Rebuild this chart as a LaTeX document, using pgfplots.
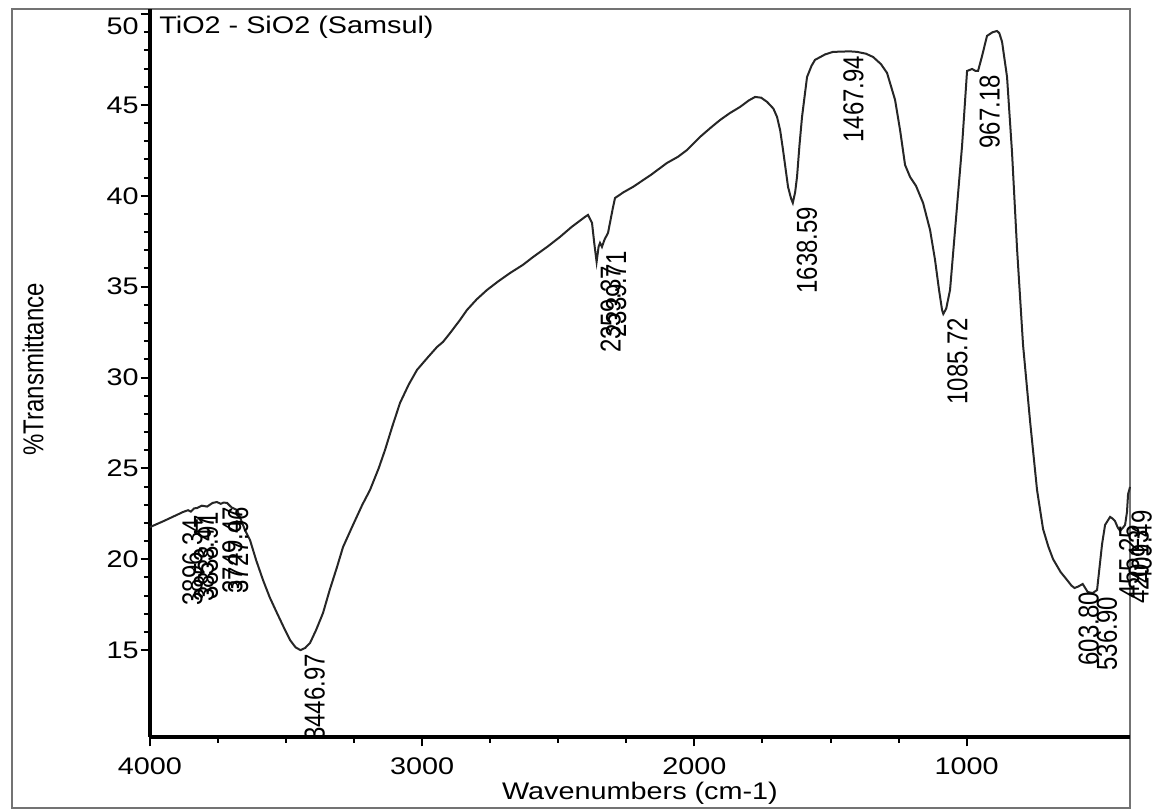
\documentclass[border=0pt]{standalone}
\usepackage{fontspec}
\setmainfont{Liberation Sans}
\usepackage{graphicx}
\usepackage{pgfplots}
\usepackage{pgfplotstable}
\pgfplotsset{compat=1.18}

% the source image is stretched sideways, so widen horizontal text a bit
\newcommand{\sx}[1]{\scalebox{1.2}[1]{#1}}
\newcommand{\pk}[1]{\scalebox{1}[1.2]{#1}}

\pgfplotstableread{
wn T
4000 21.77
3950 22.10
3900 22.45
3878.8 22.60
3860 22.70
3850 22.62
3838 22.80
3827 22.82
3810 22.95
3790 22.90
3770 23.10
3754 23.15
3740 23.05
3730 23.12
3717 23.10
3700 22.85
3680 22.71
3651 21.61
3632.6 21.06
3610 19.95
3584.9 18.86
3560 17.9
3533.4 17.04
3510 16.3
3485.7 15.56
3465 15.15
3446.97 15.00
3430 15.12
3412.2 15.39
3390 16.1
3364.4 17.04
3340 18.3
3313.0 19.57
3290.9 20.67
3254.2 21.89
3220 23.0
3191.8 23.81
3160 25.0
3136.7 26.01
3110 27.3
3081.6 28.60
3050 29.6
3019.1 30.42
2980 31.1
2945.6 31.68
2923.6 31.96
2900 32.4
2861.1 33.17
2835.4 33.72
2800 34.3
2761.9 34.82
2720 35.3
2677.4 35.75
2630 36.2
2592.9 36.63
2540 37.2
2493.7 37.74
2450 38.3
2401.9 38.84
2390.9 38.95
2376.2 38.51
2368 37.4
2359.37 36.36
2352 37.2
2346.8 37.41
2339.71 37.19
2330 37.6
2317.4 37.96
2300 39.3
2291.7 39.88
2260 40.2
2225.6 40.49
2160 41.15
2100.6 41.81
2060 42.15
2027.2 42.52
1979.4 43.24
1940 43.75
1905.9 44.17
1870 44.55
1832.4 44.89
1800 45.25
1777.3 45.44
1755 45.40
1733.3 45.17
1710 44.80
1696.5 44.34
1685 43.6
1674.5 42.52
1656.1 40.49
1645 39.85
1638.59 39.61
1630 40.2
1623.1 41.04
1614 42.8
1604.7 44.34
1586.3 46.54
1570 47.15
1557.0 47.48
1520 47.78
1490.9 47.92
1467.94 47.93
1430 47.95
1402.6 47.92
1370 47.82
1343.8 47.64
1315 47.25
1292.4 46.76
1263.0 45.28
1244.6 43.62
1226.3 41.70
1207.9 41.04
1185.9 40.54
1160.1 39.61
1134.4 38.12
1116.1 36.47
1101.4 34.82
1090.4 33.72
1085.72 33.50
1075 33.8
1061.0 34.82
1042.6 38.12
1016.9 42.74
998.5 46.87
980.1 46.98
967.18 46.87
958.1 46.87
945 47.6
925.1 48.80
905 49.0
888.4 49.07
880 48.95
869.9 48.47
851.6 46.54
833.2 42.36
814.8 37.07
792.8 31.79
767.1 27.61
741.4 23.81
719.4 21.67
700 20.7
682.6 20.01
655 19.3
631.2 18.86
615 18.55
603.80 18.42
590 18.50
573.7 18.64
555.3 18.20
536.90 18.14
520.9 18.31
502.5 20.84
491.5 21.89
473.1 22.33
465 22.25
455.25 22.11
445 21.75
436.4 21.56
425 21.75
418.0 21.89
411 22.6
407.0 23.59
403 23.8
400 23.98
}\spectrum

\begin{document}
\begin{tikzpicture}[font=\fontsize{7.2}{8.6}\selectfont]
\useasboundingbox (-45pt,-22.2pt) rectangle (303.6pt,221.1pt);
\draw[black!55, line width=0.5pt] (-41.4pt,-21.3pt) rectangle (294pt,218.4pt);
\begin{axis}[
  at={(0,0)}, anchor=south west,
  scale only axis, width=294pt, height=218.4pt,
  x dir=reverse, xmin=400, xmax=4000,
  ymin=10.22, ymax=50.28,
  axis x line*=bottom, axis y line*=left,
  axis line style={line width=1.1pt, black},
  tick align=outside,
  xtick={4000,3000,2000,1000},
  xticklabels={\sx{4000},\sx{3000},\sx{2000},\sx{1000}},
  minor x tick num=3,
  ytick={15,20,25,30,35,40,45,50},
  yticklabels={\sx{15},\sx{20},\sx{25},\sx{30},\sx{35},\sx{40},\sx{45},\raisebox{-6pt}[0pt][0pt]{\sx{50}}},
  minor y tick num=4,
  major tick length=2.8pt, minor tick length=1.8pt,
  every tick/.style={black, line width=0.6pt},
  tick label style={font=\fontsize{7.2}{8.6}\selectfont},
  yticklabel style={inner sep=0.4pt},
  xlabel={\sx{Wavenumbers (cm-1)}},
  ylabel={\pk{\%Transmittance}},
  label style={font=\fontsize{7.2}{8.6}\selectfont},
  xlabel style={at={(axis description cs:0.5,-0.077)}, anchor=center},
  ylabel style={at={(axis description cs:-0.1194,0.505)}, anchor=center, fill=white, inner sep=1pt},
  clip=false,
]
\addplot[black!85, line width=0.6pt] table[x=wn, y=T] {\spectrum};

\node[anchor=west, inner sep=0pt] at (axis cs:3968,49.3) {\sx{TiO2 - SiO2 (Samsul)}};

\begin{scope}[every node/.style={rotate=90, anchor=north east, inner sep=1pt, font=\fontsize{7.2}{8.6}\selectfont}]
\node at (axis cs:3896.34,22.45) {\pk{3896.34}};
\node at (axis cs:3853.47,22.65) {\pk{3853.47}};
\node at (axis cs:3838.91,22.80) {\pk{3838.91}};
\node at (axis cs:3749.47,23.10) {\pk{3749.47}};
\node at (axis cs:3727.96,23.10) {\pk{3727.96}};
\node at (axis cs:3446.97,15.00) {\pk{3446.97}};
\node at (axis cs:2359.37,36.36) {\pk{2359.37}};
\node at (axis cs:2339.71,37.19) {\pk{2339.71}};
\node at (axis cs:1638.59,39.61) {\pk{1638.59}};
\node at (axis cs:1467.94,47.93) {\pk{1467.94}};
\node at (axis cs:1085.72,33.50) {\pk{1085.72}};
\node at (axis cs:967.18,46.87) {\pk{967.18}};
\node at (axis cs:603.80,18.42) {\pk{603.80}};
\node at (axis cs:536.90,18.14) {\pk{536.90}};
\node at (axis cs:455.25,22.11) {\pk{455.25}};
\node at (axis cs:420.13,21.80) {\pk{420.13}};
\node at (axis cs:409.49,22.90) {\pk{409.49}};
\end{scope}
\end{axis}
\end{tikzpicture}
\end{document}
